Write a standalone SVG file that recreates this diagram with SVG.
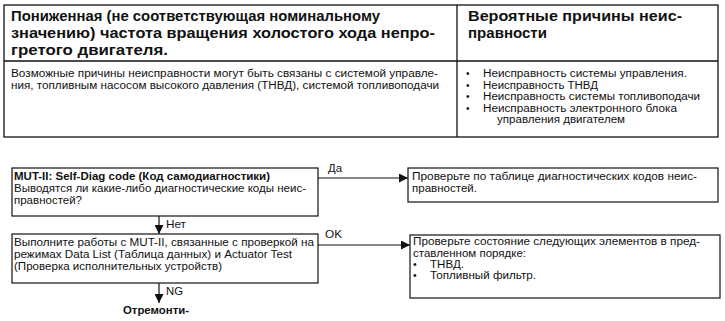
<svg xmlns="http://www.w3.org/2000/svg" width="725" height="321" viewBox="0 0 725 321">
<style>
text{font-family:"Liberation Sans",Arial,sans-serif;fill:#111}
.h{font-size:15px;font-weight:bold}
.b{font-size:10px}
.f{font-size:10.5px}
.fb{font-size:10.5px;font-weight:bold}
.box{fill:#fff;stroke:#111;stroke-width:1.2}
.tb{fill:none;stroke:#111;stroke-width:1.3}
.ln{fill:none;stroke:#111;stroke-width:1.2}
</style>
<defs>
<marker id="ah" viewBox="0 0 10 10" refX="10" refY="5" markerWidth="10" markerHeight="9" markerUnits="userSpaceOnUse" orient="auto">
<path d="M0,0 L10,5 L0,10 Z" fill="#111"/>
</marker>
</defs>
<g id="table">
<rect class="tb" x="4" y="5" width="714" height="132"/>
<line class="tb" x1="4" y1="61" x2="718" y2="61"/>
<line class="tb" x1="457" y1="5" x2="457" y2="137"/>
<text class="h" x="11" y="21" textLength="369" lengthAdjust="spacingAndGlyphs">Пониженная (не соответствующая номинальному</text>
<text class="h" x="11" y="38" textLength="424" lengthAdjust="spacingAndGlyphs">значению) частота вращения холостого хода непро-</text>
<text class="h" x="11" y="55" textLength="157" lengthAdjust="spacingAndGlyphs">гретого двигателя.</text>
<text class="h" x="468" y="21" textLength="214" lengthAdjust="spacingAndGlyphs">Вероятные причины неис-</text>
<text class="h" x="468" y="38" textLength="79" lengthAdjust="spacingAndGlyphs">правности</text>
<text class="b" x="11" y="77" textLength="427" lengthAdjust="spacingAndGlyphs">Возможные причины неисправности могут быть связаны с системой управле-</text>
<text class="b" x="11" y="88.5" textLength="428" lengthAdjust="spacingAndGlyphs">ния, топливным насосом высокого давления (ТНВД), системой топливоподачи</text>
<text class="b" x="466" y="77">•</text>
<text class="b" x="483" y="77" textLength="204" lengthAdjust="spacingAndGlyphs">Неисправность системы управления.</text>
<text class="b" x="466" y="88.5">•</text>
<text class="b" x="483" y="88.5" textLength="115" lengthAdjust="spacingAndGlyphs">Неисправность ТНВД</text>
<text class="b" x="466" y="100">•</text>
<text class="b" x="483" y="100" textLength="217" lengthAdjust="spacingAndGlyphs">Неисправность системы топливоподачи</text>
<text class="b" x="466" y="111.5">•</text>
<text class="b" x="483" y="111.5" textLength="194" lengthAdjust="spacingAndGlyphs">Неисправность электронного блока</text>
<text class="b" x="497" y="123" textLength="128" lengthAdjust="spacingAndGlyphs">управления двигателем</text>
</g>
<g id="connectors">
<line class="ln" x1="318" y1="178" x2="408" y2="178" marker-end="url(#ah)"/>
<line class="ln" x1="318" y1="245" x2="410" y2="245" marker-end="url(#ah)"/>
<line class="ln" x1="159" y1="216" x2="159" y2="234" marker-end="url(#ah)"/>
<line class="ln" x1="159" y1="283" x2="159" y2="303" marker-end="url(#ah)"/>
<text class="f" x="328" y="172" textLength="14" lengthAdjust="spacingAndGlyphs">Да</text>
<text class="f" x="325" y="238" textLength="17" lengthAdjust="spacingAndGlyphs">OK</text>
<text class="f" x="166" y="228" textLength="20" lengthAdjust="spacingAndGlyphs">Нет</text>
<text class="f" x="166" y="295" textLength="17" lengthAdjust="spacingAndGlyphs">NG</text>
</g>
<g id="node-selfdiag">
<rect class="box" x="12" y="168" width="306" height="48"/>
<text class="fb" x="14" y="180" textLength="256" lengthAdjust="spacingAndGlyphs">MUT-II: Self-Diag code (Код самодиагностики)</text>
<text class="f" x="14" y="192" textLength="292" lengthAdjust="spacingAndGlyphs">Выводятся ли какие-либо диагностические коды неис-</text>
<text class="f" x="14" y="204" textLength="68" lengthAdjust="spacingAndGlyphs">правностей?</text>
</g>
<g id="node-check-table">
<rect class="box" x="408" y="168" width="310" height="34"/>
<text class="f" x="412" y="180" textLength="285" lengthAdjust="spacingAndGlyphs">Проверьте по таблице диагностических кодов неис-</text>
<text class="f" x="412" y="192" textLength="65" lengthAdjust="spacingAndGlyphs">правностей.</text>
</g>
<g id="node-mut-test">
<rect class="box" x="12" y="234" width="306" height="49"/>
<text class="f" x="14" y="246" textLength="300" lengthAdjust="spacingAndGlyphs">Выполните работы с MUT-II, связанные с проверкой на</text>
<text class="f" x="14" y="258" textLength="278" lengthAdjust="spacingAndGlyphs">режимах Data List (Таблица данных) и Actuator Test</text>
<text class="f" x="14" y="270" textLength="208" lengthAdjust="spacingAndGlyphs">(Проверка исполнительных устройств)</text>
</g>
<g id="node-check-elements">
<rect class="box" x="410" y="235" width="310" height="63"/>
<text class="f" x="413" y="245" textLength="287" lengthAdjust="spacingAndGlyphs">Проверьте состояние следующих элементов в пред-</text>
<text class="f" x="413" y="257" textLength="113" lengthAdjust="spacingAndGlyphs">ставленном порядке:</text>
<text class="f" x="413" y="268">•</text>
<text class="f" x="430" y="268" textLength="34" lengthAdjust="spacingAndGlyphs">ТНВД.</text>
<text class="f" x="413" y="279">•</text>
<text class="f" x="430" y="279" textLength="106" lengthAdjust="spacingAndGlyphs">Топливный фильтр.</text>
</g>
<g id="node-repair">
<text class="fb" x="123" y="314" textLength="66" lengthAdjust="spacingAndGlyphs">Отремонти-</text>
</g>
</svg>
